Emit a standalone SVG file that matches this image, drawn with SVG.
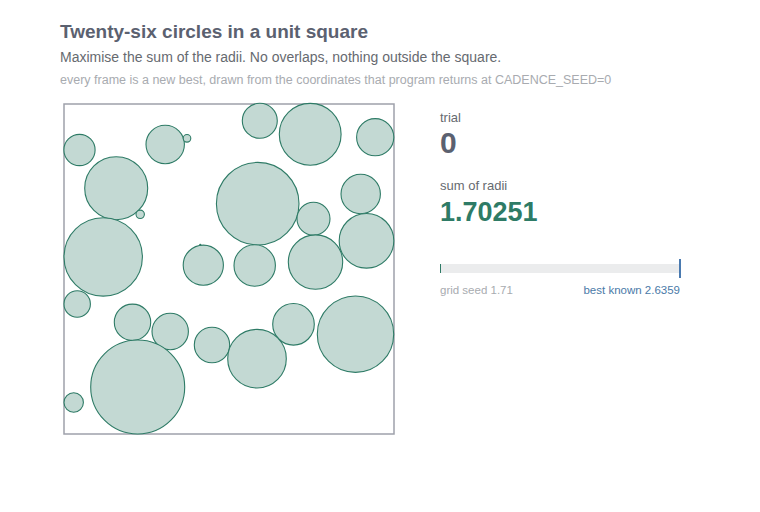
<svg xmlns="http://www.w3.org/2000/svg" width="760" height="512" viewBox="0 0 760 512">
<style>
.t{font-family:"Liberation Sans",Arial,sans-serif}
.c{fill:#c3d9d3;stroke:#2e7b66;stroke-width:1.1}
</style>
<rect width="760" height="512" fill="#ffffff"/>
<text class="t" x="60" y="38" font-size="19" font-weight="bold" fill="#5b6170">Twenty-six circles in a unit square</text>
<text class="t" x="60" y="62" font-size="14" fill="#666a70">Maximise the sum of the radii. No overlaps, nothing outside the square.</text>
<text class="t" x="60" y="84" font-size="12.5" fill="#a8abb0">every frame is a new best, drawn from the coordinates that program returns at CADENCE_SEED=0</text>
<rect id="square" x="64" y="104" width="330" height="330" fill="none" stroke="#9ea1ab" stroke-width="1.5"/>
<g id="circles">
<circle id="c1" class="c" cx="79.5" cy="150" r="15.6"/>
<circle id="c2" class="c" cx="165.2" cy="144.5" r="19.2"/>
<circle id="c3" class="c" cx="187" cy="138.3" r="3.8"/>
<circle id="c4" class="c" cx="116.2" cy="188.2" r="31.5"/>
<circle id="c5" class="c" cx="140.2" cy="214.3" r="4.2"/>
<circle id="c6" class="c" cx="103.2" cy="256.9" r="39.2"/>
<circle id="c7" class="c" cx="203.3" cy="265.2" r="20.1"/>
<circle id="c26" class="c" cx="200.3" cy="244.8" r="0.6"/>
<circle id="c8" class="c" cx="259.8" cy="120.8" r="17.5"/>
<circle id="c9" class="c" cx="310.2" cy="134.3" r="30.9"/>
<circle id="c10" class="c" cx="375.2" cy="137.2" r="18.6"/>
<circle id="c11" class="c" cx="257.7" cy="203.7" r="41.3"/>
<circle id="c12" class="c" cx="313.5" cy="218.7" r="16.5"/>
<circle id="c13" class="c" cx="360.7" cy="194" r="19.7"/>
<circle id="c14" class="c" cx="366.5" cy="240.8" r="27.3"/>
<circle id="c15" class="c" cx="254.7" cy="265.5" r="20.7"/>
<circle id="c16" class="c" cx="315.5" cy="262.1" r="27.2"/>
<circle id="c17" class="c" cx="77.2" cy="304" r="13.2"/>
<circle id="c18" class="c" cx="132.5" cy="322.3" r="18.2"/>
<circle id="c19" class="c" cx="170.2" cy="331.5" r="18.2"/>
<circle id="c20" class="c" cx="212" cy="345" r="17.7"/>
<circle id="c21" class="c" cx="137.7" cy="387" r="47"/>
<circle id="c22" class="c" cx="73.7" cy="402.5" r="9.7"/>
<circle id="c23" class="c" cx="293.5" cy="324.3" r="20.8"/>
<circle id="c24" class="c" cx="257" cy="358.7" r="29.3"/>
<circle id="c25" class="c" cx="355.5" cy="334.2" r="38.2"/>
</g>
<g id="stats">
<text class="t" x="440" y="122" font-size="13" fill="#666a70">trial</text>
<text class="t" x="440" y="153" font-size="30" font-weight="bold" fill="#5b6170">0</text>
<text class="t" x="440" y="190" font-size="13" fill="#666a70">sum of radii</text>
<text class="t" x="440" y="221" font-size="27" font-weight="bold" fill="#2e7b66">1.70251</text>
</g>
<g id="progress">
<rect x="440" y="264" width="240" height="9" fill="#ebeced"/>
<rect x="440" y="264" width="1" height="9" fill="#2e7b66"/>
<rect x="679" y="259" width="2" height="19" fill="#4a7ab0"/>
<text class="t" x="440" y="294" font-size="11.5" fill="#a8abb0">grid seed 1.71</text>
<text class="t" x="680" y="294" font-size="11.5" fill="#4a7aa8" text-anchor="end">best known 2.6359</text>
</g>
</svg>
